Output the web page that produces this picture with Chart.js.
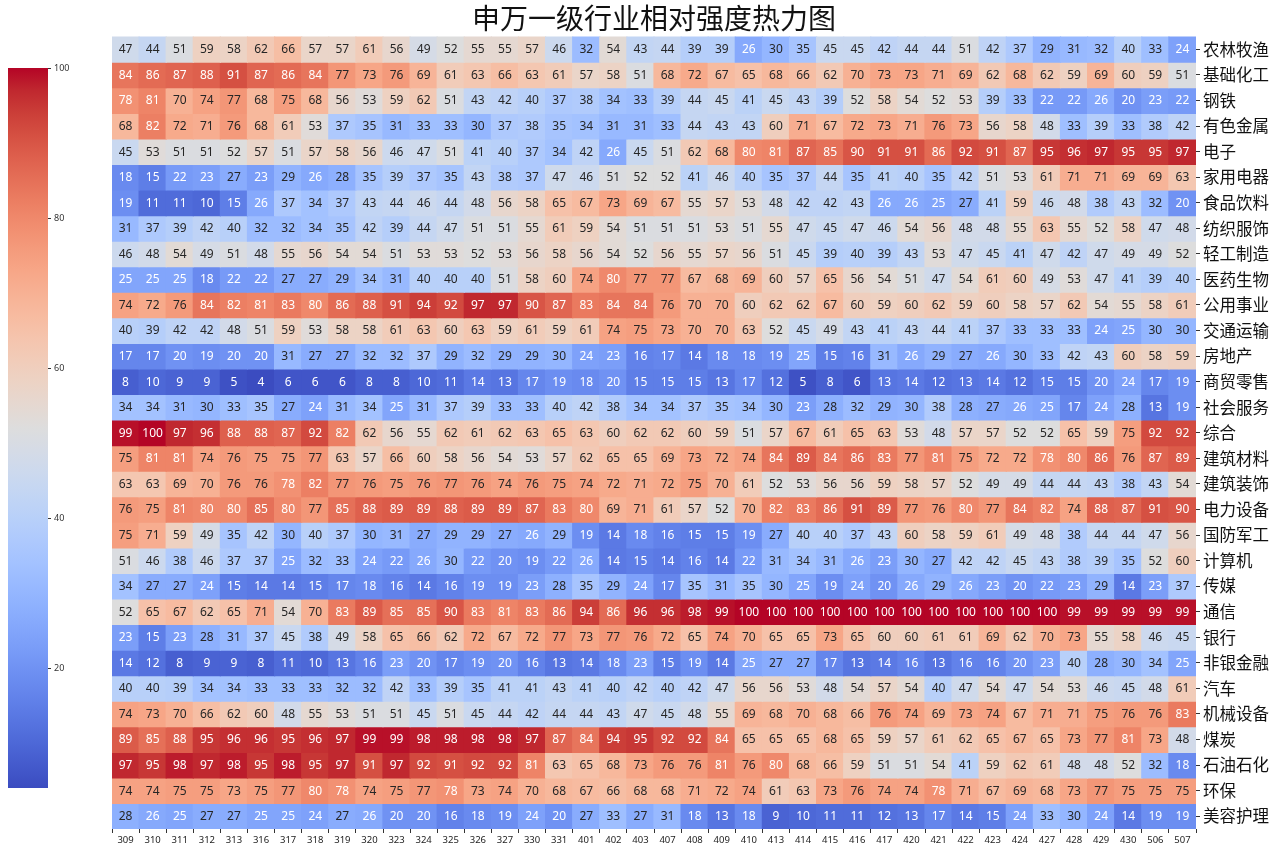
<!DOCTYPE html>
<html><head><meta charset="utf-8">
<script src="https://cdn.jsdelivr.net/npm/chart.js@4.4.0/dist/chart.umd.min.js"></script>
<style>
html,body{margin:0;padding:0;background:#fff;}
#wrap{position:relative;width:1280px;height:853px;overflow:hidden;}
#main,#cbar{position:absolute;left:0;top:0;}
</style></head><body>
<div id="wrap">
<canvas id="main" width="1280" height="853"></canvas>
<canvas id="cbar" width="100" height="853"></canvas>
</div>
<script>
const periods = ['309','310','311','312','313','316','317','318','319','320','323','324','325','326','327','330','331','401','402','403','407','408','409','410','413','414','415','416','417','420','421','422','423','424','427','428','429','430','506','507'];
const industries = ['农林牧渔','基础化工','钢铁','有色金属','电子','家用电器','食品饮料','纺织服饰','轻工制造','医药生物','公用事业','交通运输','房地产','商贸零售','社会服务','综合','建筑材料','建筑装饰','电力设备','国防军工','计算机','传媒','通信','银行','非银金融','汽车','机械设备','煤炭','石油石化','环保','美容护理'];
const cbarTicks = [20,40,60,80,100];
const vmin = 4, vmax = 100;

const agriculture = [47,44,51,59,58,62,66,57,57,61,56,49,52,55,55,57,46,32,54,43,44,39,39,26,30,35,45,45,42,44,44,51,42,37,29,31,32,40,33,24];
const chemicals = [84,86,87,88,91,87,86,84,77,73,76,69,61,63,66,63,61,57,58,51,68,72,67,65,68,66,62,70,73,73,71,69,62,68,62,59,69,60,59,51];
const steel = [78,81,70,74,77,68,75,68,56,53,59,62,51,43,42,40,37,38,34,33,39,44,45,41,45,43,39,52,58,54,52,53,39,33,22,22,26,20,23,22];
const metals = [68,82,72,71,76,68,61,53,37,35,31,33,33,30,37,38,35,34,31,31,33,44,43,43,60,71,67,72,73,71,76,73,56,58,48,33,39,33,38,42];
const electronics = [45,53,51,51,52,57,51,57,58,56,46,47,51,41,40,37,34,42,26,45,51,62,68,80,81,87,85,90,91,91,86,92,91,87,95,96,97,95,95,97];
const appliances = [18,15,22,23,27,23,29,26,28,35,39,37,35,43,38,37,47,46,51,52,52,41,46,40,35,37,44,35,41,40,35,42,51,53,61,71,71,69,69,63];
const food = [19,11,11,10,15,26,37,34,37,43,44,46,44,48,56,58,65,67,73,69,67,55,57,53,48,42,42,43,26,26,25,27,41,59,46,48,38,43,32,20];
const textiles = [31,37,39,42,40,32,32,34,35,42,39,44,47,51,51,55,61,59,54,51,51,51,53,51,55,47,45,47,46,54,56,48,48,55,63,55,52,58,47,48];
const lightMfg = [46,48,54,49,51,48,55,56,54,54,51,53,53,52,53,56,58,56,54,52,56,55,57,56,51,45,39,40,39,43,53,47,45,41,47,42,47,49,49,52];
const pharma = [25,25,25,18,22,22,27,27,29,34,31,40,40,40,51,58,60,74,80,77,77,67,68,69,60,57,65,56,54,51,47,54,61,60,49,53,47,41,39,40];
const utilities = [74,72,76,84,82,81,83,80,86,88,91,94,92,97,97,90,87,83,84,84,76,70,70,60,62,62,67,60,59,60,62,59,60,58,57,62,54,55,58,61];
const transport = [40,39,42,42,48,51,59,53,58,58,61,63,60,63,59,61,59,61,74,75,73,70,70,63,52,45,49,43,41,43,44,41,37,33,33,33,24,25,30,30];
const realEstate = [17,17,20,19,20,20,31,27,27,32,32,37,29,32,29,29,30,24,23,16,17,14,18,18,19,25,15,16,31,26,29,27,26,30,33,42,43,60,58,59];
const retail = [8,10,9,9,5,4,6,6,6,8,8,10,11,14,13,17,19,18,20,15,15,15,13,17,12,5,8,6,13,14,12,13,14,12,15,15,20,24,17,19];
const socialSvc = [34,34,31,30,33,35,27,24,31,34,25,31,37,39,33,33,40,42,38,34,34,37,35,34,30,23,28,32,29,30,38,28,27,26,25,17,24,28,13,19];
const conglomerate = [99,100,97,96,88,88,87,92,82,62,56,55,62,61,62,63,65,63,60,62,62,60,59,51,57,67,61,65,63,53,48,57,57,52,52,65,59,75,92,92];
const buildMat = [75,81,81,74,76,75,75,77,63,57,66,60,58,56,54,53,57,62,65,65,69,73,72,74,84,89,84,86,83,77,81,75,72,72,78,80,86,76,87,89];
const construction = [63,63,69,70,76,76,78,82,77,76,75,76,77,76,74,76,75,74,72,71,72,75,70,61,52,53,56,56,59,58,57,52,49,49,44,44,43,38,43,54];
const powerEquip = [76,75,81,80,80,85,80,77,85,88,89,89,88,89,89,87,83,80,69,71,61,57,52,70,82,83,86,91,89,77,76,80,77,84,82,74,88,87,91,90];
const defense = [75,71,59,49,35,42,30,40,37,30,31,27,29,29,27,26,29,19,14,18,16,15,15,19,27,40,40,37,43,60,58,59,61,49,48,38,44,44,47,56];
const computer = [51,46,38,46,37,37,25,32,33,24,22,26,30,22,20,19,22,26,14,15,14,16,14,22,31,34,31,26,23,30,27,42,42,45,43,38,39,35,52,60];
const media = [34,27,27,24,15,14,14,15,17,18,16,14,16,19,19,23,28,35,29,24,17,35,31,35,30,25,19,24,20,26,29,26,23,20,22,23,29,14,23,37];
const telecom = [52,65,67,62,65,71,54,70,83,89,85,85,90,83,81,83,86,94,86,96,96,98,99,100,100,100,100,100,100,100,100,100,100,100,100,99,99,99,99,99];
const banks = [23,15,23,28,31,37,45,38,49,58,65,66,62,72,67,72,77,73,77,76,72,65,74,70,65,65,73,65,60,60,61,61,69,62,70,73,55,58,46,45];
const nonBank = [14,12,8,9,9,8,11,10,13,16,23,20,17,19,20,16,13,14,18,23,15,19,14,25,27,27,17,13,14,16,13,16,16,20,23,40,28,30,34,25];
const autos = [40,40,39,34,34,33,33,33,32,32,42,33,39,35,41,41,43,41,40,42,40,42,47,56,56,53,48,54,57,54,40,47,54,47,54,53,46,45,48,61];
const machinery = [74,73,70,66,62,60,48,55,53,51,51,45,51,45,44,42,44,44,43,47,45,48,55,69,68,70,68,66,76,74,69,73,74,67,71,71,75,76,76,83];
const coal = [89,85,88,95,96,96,95,96,97,99,99,98,98,98,98,97,87,84,94,95,92,92,84,65,65,65,68,65,59,57,61,62,65,67,65,73,77,81,73,48];
const petro = [97,95,98,97,98,95,98,95,97,91,97,92,91,92,92,81,63,65,68,73,76,76,81,76,80,68,66,59,51,51,54,41,59,62,61,48,48,52,32,18];
const environ = [74,74,75,75,73,75,77,80,78,74,75,77,78,73,74,70,68,67,66,68,68,71,72,74,61,63,73,76,74,74,78,71,67,69,68,73,77,75,75,75];
const beauty = [28,26,25,27,27,25,25,24,27,26,20,20,16,18,19,24,20,27,33,27,31,18,13,18,9,10,11,11,12,13,17,14,15,24,33,30,24,14,19,19];

const rows = [agriculture,chemicals,steel,metals,electronics,appliances,food,textiles,lightMfg,pharma,utilities,transport,realEstate,retail,socialSvc,conglomerate,buildMat,construction,powerEquip,defense,computer,media,telecom,banks,nonBank,autos,machinery,coal,petro,environ,beauty];

// coolwarm (Moreland) table
const CW = [[59,76,192],[68,90,204],[77,104,215],[87,117,225],[98,130,234],[108,142,241],[119,154,247],[130,165,251],[141,176,254],[152,185,255],[163,194,255],[174,201,253],[184,208,249],[194,213,244],[204,217,238],[213,219,230],[221,221,221],[229,216,209],[236,211,197],[241,204,185],[245,196,173],[247,187,160],[247,177,148],[247,166,135],[244,154,123],[241,141,111],[236,127,99],[229,112,88],[222,96,77],[213,80,66],[203,62,56],[192,40,47],[180,4,38]];
function cmapRGB(t){
  t = Math.max(0, Math.min(1, t));
  const p = t * (CW.length - 1);
  const i = Math.min(CW.length - 2, Math.floor(p));
  const f = p - i;
  return CW[i].map((c, k) => Math.round(c + (CW[i+1][k] - c) * f));
}
function colorFor(v){ const c = cmapRGB((v - vmin)/(vmax - vmin)); return `rgb(${c[0]},${c[1]},${c[2]})`; }
function textColor(v){
  const c = cmapRGB((v - vmin)/(vmax - vmin)).map(x => { x /= 255; return x <= 0.03928 ? x/12.92 : Math.pow((x+0.055)/1.055, 2.4); });
  const lum = 0.2126*c[0] + 0.7152*c[1] + 0.0722*c[2];
  return lum > 0.408 ? '#262626' : '#ffffff';
}

const cellText = {
  id: 'cellText',
  afterDatasetsDraw(chart){
    const ctx = chart.ctx;
    ctx.save();
    ctx.font = '12px "Noto Sans", sans-serif';
    ctx.textAlign = 'center';
    ctx.textBaseline = 'middle';
    chart.data.datasets.forEach((ds, i) => {
      const meta = chart.getDatasetMeta(i);
      meta.data.forEach((el, j) => {
        const v = rows[i][j];
        ctx.fillStyle = textColor(v);
        ctx.fillText(String(v), el.x, (el.y + el.base)/2 + 0.5);
      });
    });
    ctx.restore();
  }
};

new Chart(document.getElementById('main'), {
  type: 'bar',
  data: {
    labels: periods,
    datasets: rows.map((vals, i) => ({
      label: industries[i],
      data: vals.map(() => 1),
      backgroundColor: vals.map(colorFor),
      borderWidth: 0,
      barPercentage: 1,
      categoryPercentage: 1,
      inflateAmount: 0.6,
      stack: 'grid',
      xAxisID: 'x',
      yAxisID: 'y'
    }))
  },
  options: {
    responsive: false,
    animation: false,
    events: [],
    layout: { padding: { left: 112, top: 0, right: 0, bottom: 0 } },
    plugins: {
      legend: { display: false },
      tooltip: { enabled: false },
      title: {
        display: true,
        text: '申万一级行业相对强度热力图',
        fullSize: false,
        color: '#111',
        font: { size: 28, family: '"Noto Sans CJK SC", sans-serif', weight: 'normal' },
        padding: { top: 2, bottom: 1 }
      }
    },
    scales: {
      x: {
        type: 'category',
        stacked: true,
        offset: true,
        grid: { display: true, drawOnChartArea: false, drawTicks: true, tickLength: 4, color: '#333' },
        border: { display: false },
        ticks: { font: { size: 9.5, family: '"Noto Sans", sans-serif' }, color: '#222', padding: 2, maxRotation: 0, autoSkip: false },
        afterFit: s => { s.height = 24; }
      },
      y: { type: 'linear', display: false, stacked: true, min: 0, max: rows.length, reverse: true },
      yl: {
        type: 'category',
        axis: 'y',
        labels: industries,
        position: 'right',
        offset: true,
        grid: { display: true, drawOnChartArea: false, drawTicks: true, tickLength: 4, color: '#333' },
        border: { display: false },
        ticks: { font: { size: 16.5, family: '"Noto Sans CJK SC", sans-serif' }, color: '#111', padding: 3, autoSkip: false },
        afterFit: s => { s.width = 84; }
      }
    }
  },
  plugins: [cellText]
});

const gradientBar = {
  id: 'gradientBar',
  beforeDatasetsDraw(chart){
    const { ctx, chartArea: a } = chart;
    const sc = chart.scales.y;
    const g = ctx.createLinearGradient(0, a.bottom, 0, a.top);
    CW.forEach((c, i) => {
      const v = vmin + (vmax - vmin) * i / (CW.length - 1);
      const pos = (a.bottom - sc.getPixelForValue(v)) / (a.bottom - a.top);
      g.addColorStop(Math.max(0, Math.min(1, pos)), `rgb(${c[0]},${c[1]},${c[2]})`);
    });
    ctx.save();
    ctx.fillStyle = g;
    ctx.fillRect(a.left, a.top, a.right - a.left, a.bottom - a.top);
    ctx.restore();
  }
};

new Chart(document.getElementById('cbar'), {
  type: 'scatter',
  data: { datasets: [{ data: [] }] },
  options: {
    responsive: false,
    animation: false,
    events: [],
    layout: { padding: { left: 8, top: 68, bottom: 65, right: 0 } },
    plugins: { legend: { display: false }, tooltip: { enabled: false } },
    scales: {
      x: { display: false, min: 0, max: 1 },
      y: {
        position: 'right',
        min: vmin, max: vmax,
        afterBuildTicks: s => { s.ticks = cbarTicks.map(v => ({ value: v })); },
        grid: { display: true, drawOnChartArea: false, drawTicks: true, tickLength: 3, color: '#333' },
        border: { display: false },
        ticks: { font: { size: 9, family: '"Noto Sans", sans-serif' }, color: '#333', padding: 3 },
        afterFit: s => { s.width = 52; }
      }
    }
  },
  plugins: [gradientBar]
});
</script>
</body></html>
